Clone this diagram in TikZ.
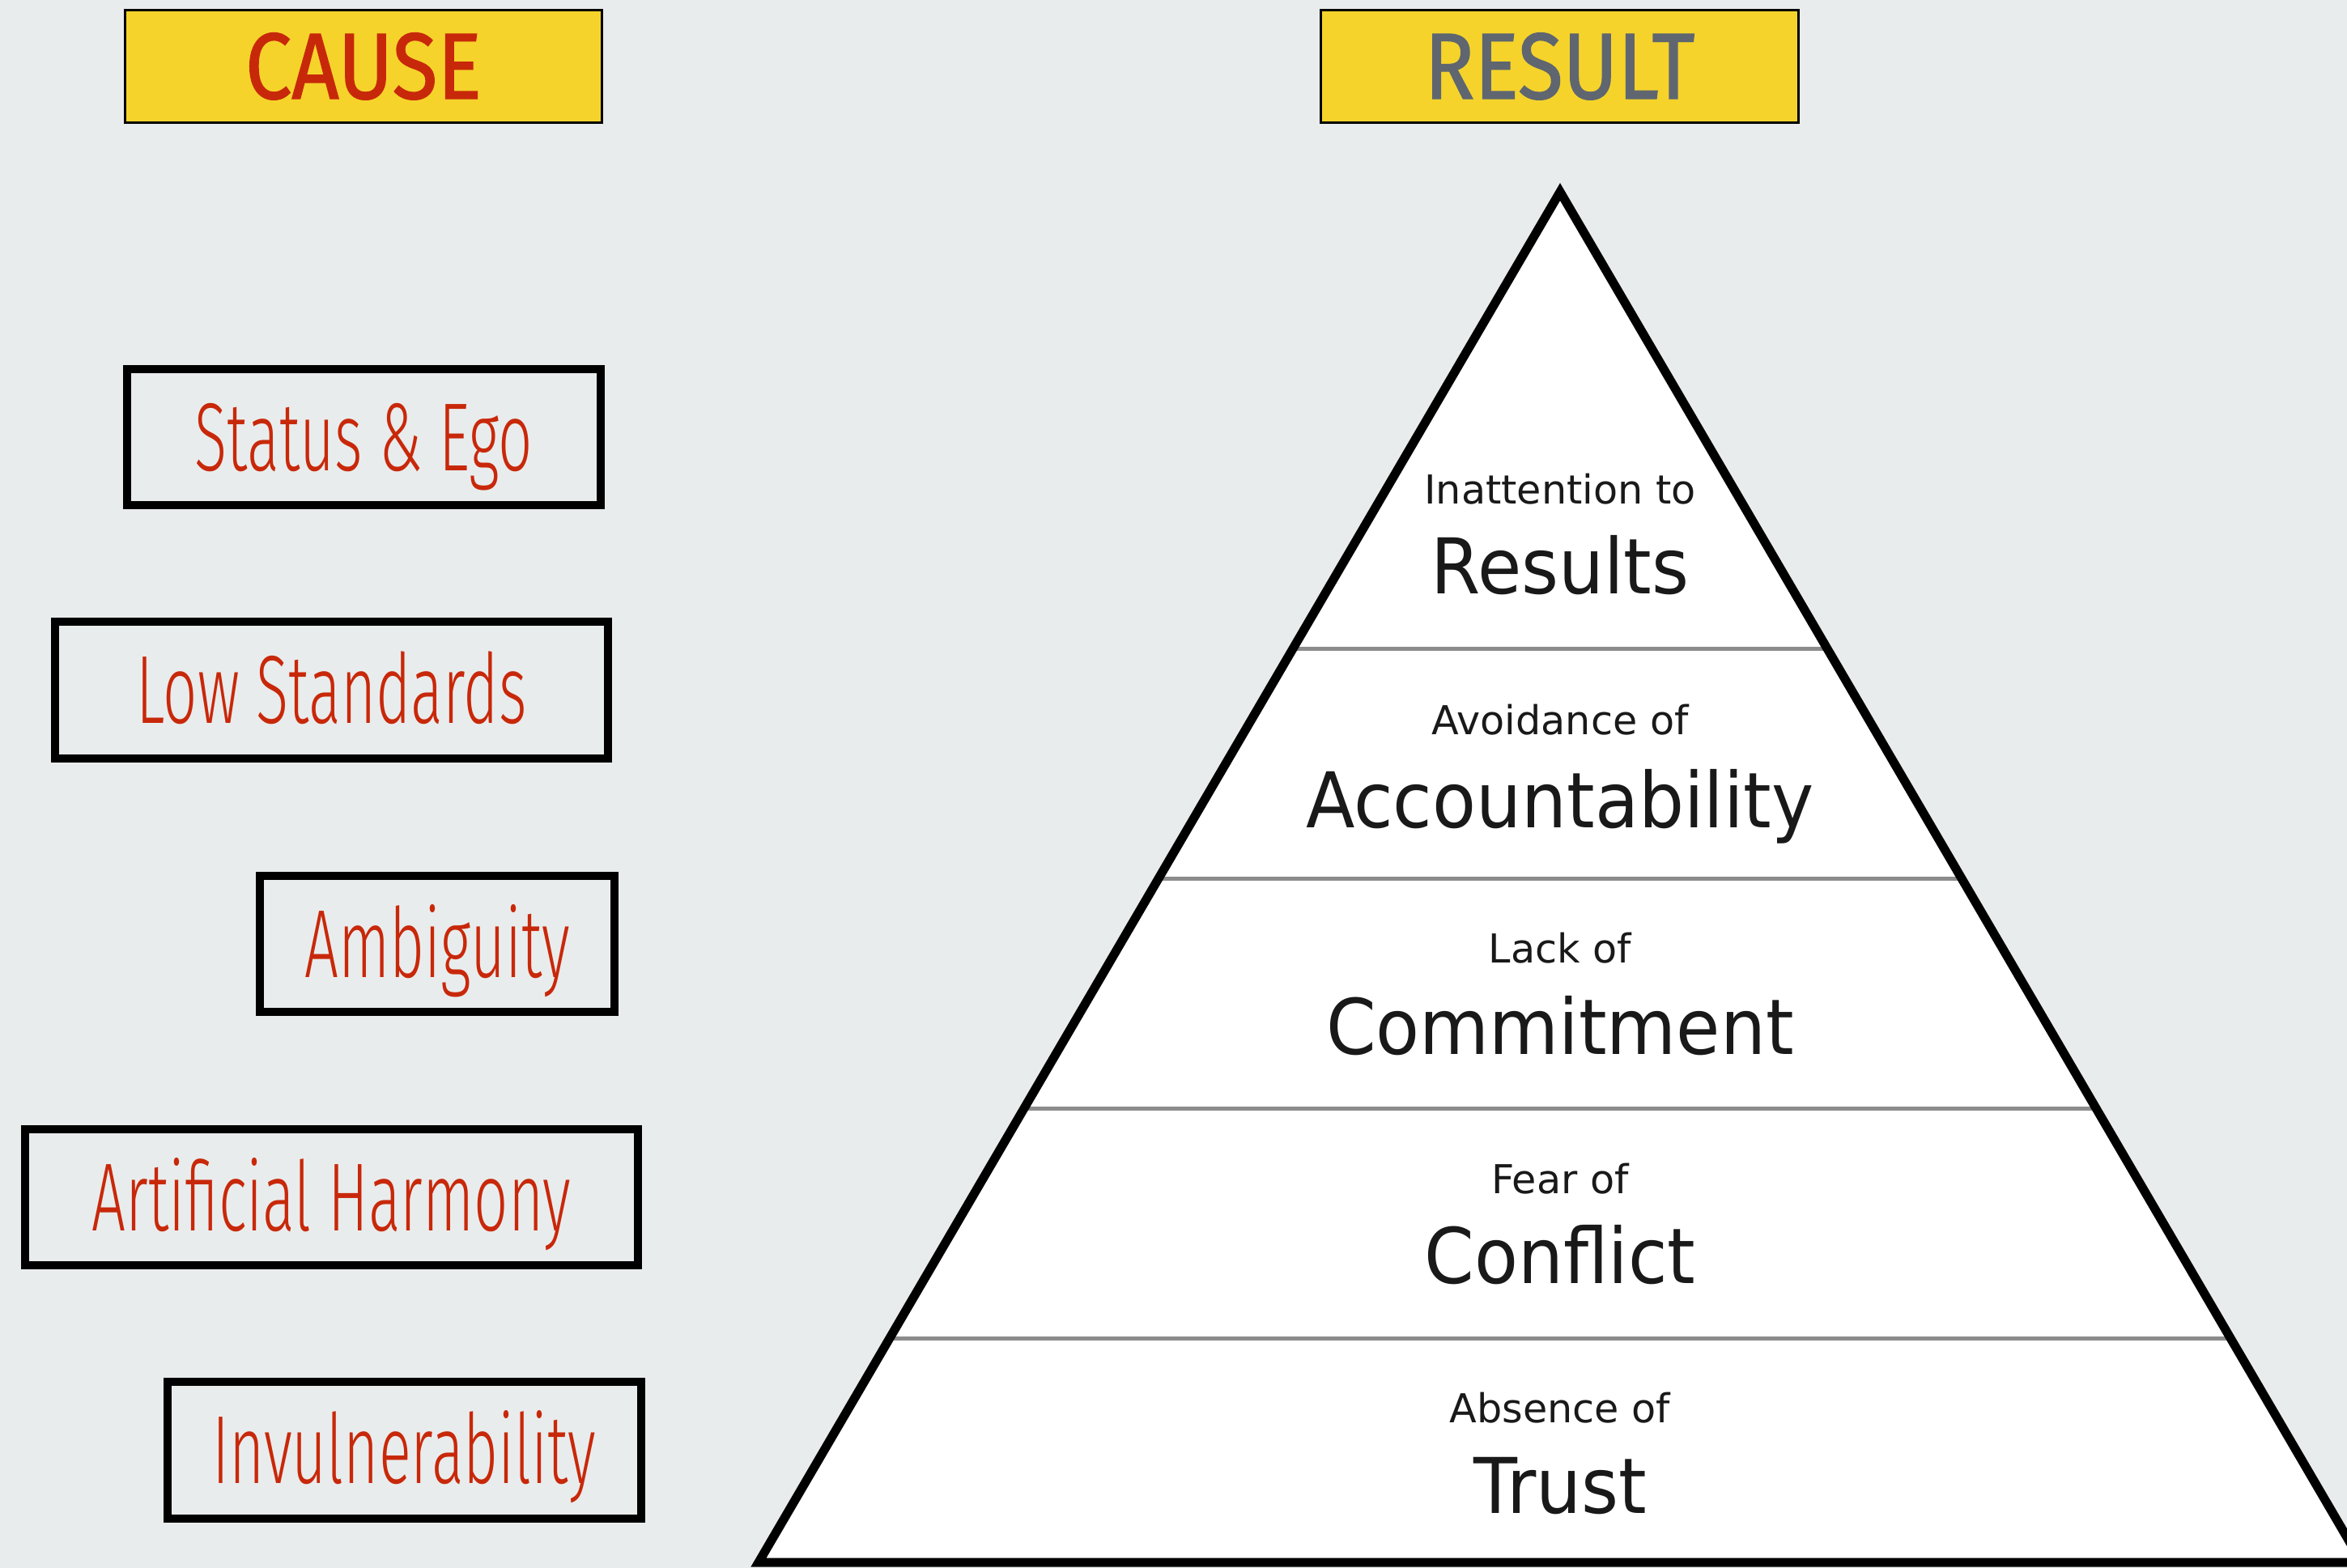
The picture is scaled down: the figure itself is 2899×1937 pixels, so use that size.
\documentclass[tikz,border=0pt]{standalone}
\usepackage{fontspec}
\setmainfont{DejaVu Sans}
\newfontfamily\handfont[FakeStretch=0.62]{Fira Sans Light}
\newfontfamily\headfont[FakeStretch=0.88,FakeBold=1.2]{Fira Sans}
\newfontfamily\pyrfont[FakeStretch=0.93]{DejaVu Sans}
\newfontfamily\pyrsmallfont{DejaVu Sans}
\usetikzlibrary{calc}
\definecolor{bgcol}{RGB}{233,236,236}
\definecolor{headyellow}{RGB}{245,211,43}
\definecolor{causered}{RGB}{200,40,10}
\definecolor{resultgray}{RGB}{95,102,112}
\definecolor{divgray}{RGB}{140,140,140}
\tikzset{
  headbox/.style={draw=black, line width=0.03cm, fill=headyellow, minimum width=5.89cm, minimum height=1.39cm, inner sep=0pt, text height=22.7pt, text depth=0pt, font=\headfont\fontsize{33pt}{36pt}\selectfont},
  causebox/.style={draw=black, line width=0.1cm, minimum height=1.68cm, inner sep=0pt, text=causered, text height=23.5pt, text depth=0pt, font=\handfont\fontsize{34pt}{37pt}\selectfont},
  divider/.style={draw=divgray, line width=0.05cm},
  pyrline/.style={draw=black, line width=0.11cm, line join=miter},
  pyrsmall/.style={anchor=base, inner sep=0pt, text=black!90, font=\pyrsmallfont\fontsize{14pt}{16pt}\selectfont},
  pyrbig/.style={anchor=base, inner sep=0pt, text=black!90, font=\pyrfont\fontsize{27pt}{30pt}\selectfont}
}
\begin{document}
\begin{tikzpicture}[x=0.01cm,y=-0.01cm]
\useasboundingbox (0,0) rectangle (2899,1937);
\fill[bgcol] (0,0) rectangle (2899,1937);
\clip (0,0) rectangle (2899,1937);

% headers
\node[headbox, text=causered] (cause) at (449,82) {CAUSE};
\node[headbox, text=resultgray] (result) at (1926.5,82) {RESULT};

% cause boxes
\node[causebox, minimum width=5.85cm] (status) at (449.5,540) {Status \& Ego};
\node[causebox, minimum width=6.83cm] (low) at (409.5,852.5) {Low Standards};
\node[causebox, minimum width=4.38cm] (ambig) at (540,1166) {Ambiguity};
\node[causebox, minimum width=7.57cm] (artif) at (409.5,1479) {Artificial Harmony};
\node[causebox, minimum width=5.85cm] (invul) at (499.5,1791.5) {Invulnerability};

% pyramid
\coordinate (apex) at (1927,237);
\coordinate (bl) at (937,1930);
\coordinate (br) at (2917,1930);
\fill[white] (apex) -- (bl) -- (br) -- cycle;
\foreach \t in {0.3337,0.5009,0.6692,0.8364}
  \draw[divider] ($(apex)!\t!(bl)$) -- ($(apex)!\t!(br)$);
\draw[pyrline] (apex) -- (bl) -- (br) -- cycle;

% pyramid texts
\node[pyrsmall] (r1s) at (1927,623) {Inattention to};
\node[pyrbig]   (r1b) at (1927,734) {Results};
\node[pyrsmall] (r2s) at (1927,908) {Avoidance of};
\node[pyrbig]   (r2b) at (1927,1023) {Accountability};
\node[pyrsmall] (r3s) at (1927,1189) {Lack of};
\node[pyrbig]   (r3b) at (1927,1302) {Commitment};
\node[pyrsmall] (r4s) at (1927,1474) {Fear of};
\node[pyrbig]   (r4b) at (1927,1585) {Conflict};
\node[pyrsmall] (r5s) at (1927,1757) {Absence of};
\node[pyrbig]   (r5b) at (1927,1869) {Trust};
\end{tikzpicture}
\end{document}
